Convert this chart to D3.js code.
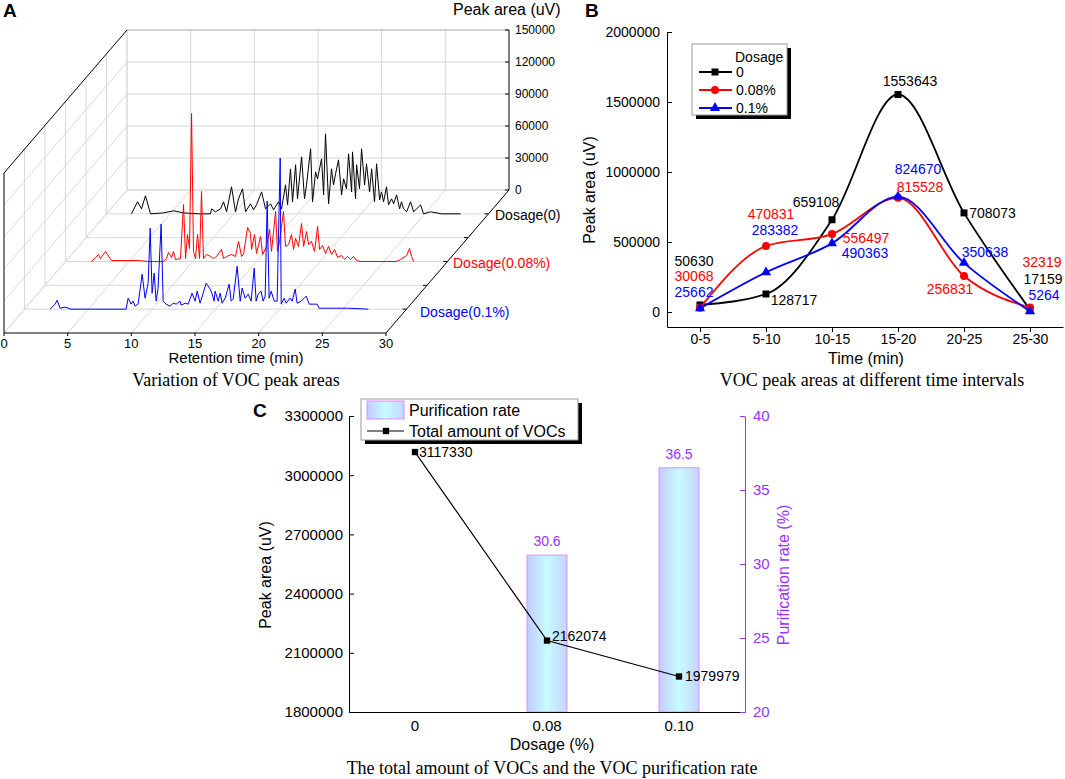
<!DOCTYPE html>
<html>
<head>
<meta charset="utf-8">
<script src="https://cdn.jsdelivr.net/npm/d3@7"></script>
<style>
  body { margin: 0; background: #fff; }
  svg { font-family: "Liberation Sans", Arial, sans-serif; }
  .cap { font-family: "Liberation Serif", "Times New Roman", serif; font-size: 18px; }
</style>
</head>
<body>
<svg width="1065" height="779"></svg>
<script>
// ---------- panel A data: [retention time (min), peak area (uV)] ----------
const traceDose0 = [[1.96,0],[2.44,11300],[2.75,4700],[3.06,16900],[3.46,0],[4.48,900],[5.26,2800],[6.05,900],[7.23,0],[8.17,0],[8.25,4700],[8.56,1900],[8.96,4700],[9.19,11300],[9.43,1900],[9.82,25300],[10.13,1900],[10.37,14100],[10.68,23400],[10.92,1900],[11.31,9400],[11.55,3800],[11.78,8400],[12.18,20600],[12.49,4700],[12.88,9400],[13.12,3800],[13.51,11300],[13.75,4700],[14.06,27200],[14.22,8400],[14.45,42200],[14.61,11300],[14.85,46000],[15.00,14100],[15.32,53400],[15.55,14100],[15.71,27200],[16.03,61000],[16.18,11300],[16.42,39400],[16.57,32800],[16.89,51600],[17.05,17800],[17.20,75000],[17.44,9400],[17.67,42200],[17.83,27200],[17.99,37500],[18.22,50600],[18.46,17800],[18.62,32800],[18.85,23400],[19.01,56300],[19.25,20600],[19.32,58100],[19.56,14100],[19.64,46000],[19.87,23400],[20.03,61000],[20.27,27200],[20.42,46900],[20.66,20600],[20.82,42200],[21.05,11300],[21.21,46900],[21.45,13100],[21.60,20600],[21.76,11300],[21.99,25300],[22.15,8400],[22.39,14100],[22.55,9400],[22.78,17800],[23.02,4700],[23.17,11300],[23.33,4700],[23.57,1900],[23.88,11300],[24.12,1900],[24.67,8400],[24.90,0],[25.45,1900],[26.32,0],[27.81,0]];
const traceDose008 = [[2.04,0],[2.36,3800],[2.59,6600],[2.75,2800],[3.14,9400],[3.61,900],[5.73,900],[6.52,0],[7.70,0],[7.93,2800],[8.09,8400],[8.33,3800],[8.48,9400],[8.64,1900],[9.03,2800],[9.27,53400],[9.43,2800],[9.58,25300],[9.74,12200],[9.90,138800],[10.05,9400],[10.21,2800],[10.37,25300],[10.53,2800],[10.68,65600],[10.84,2800],[11.08,6600],[11.39,4700],[11.63,2800],[11.86,4700],[12.25,11300],[12.41,2800],[12.65,4700],[13.04,6600],[13.35,4700],[13.59,18800],[13.83,4700],[13.98,6600],[14.30,31900],[14.53,26300],[14.61,11300],[14.85,25300],[15.00,7500],[15.32,23400],[15.48,6600],[15.79,14100],[16.03,30000],[16.18,9400],[16.50,46900],[16.65,9400],[16.81,18800],[17.12,46900],[17.28,14100],[17.52,15900],[17.75,25300],[17.91,11300],[18.07,21600],[18.30,14100],[18.54,35600],[18.70,14100],[18.93,28100],[19.09,15900],[19.32,18800],[19.56,9400],[19.80,32800],[19.95,11300],[20.19,15000],[20.42,7500],[20.66,14100],[20.90,6600],[21.13,11300],[21.37,3800],[21.68,5600],[21.92,1900],[22.15,4700],[22.39,1900],[22.62,4700],[22.86,900],[23.17,0],[24.19,0],[26.00,0],[26.32,1900],[26.79,5600],[27.02,12200],[27.18,4700],[27.34,0]];
const traceDose01 = [[2.01,0],[2.40,4700],[2.56,8400],[2.80,900],[3.19,1900],[3.66,0],[7.98,0],[8.14,10300],[8.37,4700],[8.53,7500],[8.69,2800],[8.92,4700],[9.24,32800],[9.47,10300],[9.71,24400],[9.87,75900],[10.02,15000],[10.18,33800],[10.34,7500],[10.49,19700],[10.73,79700],[10.89,7500],[11.12,4700],[11.44,2800],[11.67,5600],[11.91,4700],[12.22,7500],[12.30,3800],[12.62,5600],[12.85,4700],[13.16,15000],[13.40,7500],[13.56,16900],[13.79,5600],[14.27,24400],[14.58,18800],[14.74,14100],[14.89,7500],[14.97,16900],[15.21,7500],[15.37,15000],[15.52,5600],[15.76,10300],[16.07,23400],[16.23,7500],[16.39,9400],[16.70,40300],[16.94,7500],[17.09,19700],[17.33,10300],[17.56,14100],[17.80,7500],[18.04,38400],[18.19,7500],[18.35,14100],[18.58,16900],[18.74,7500],[18.90,12200],[19.06,101300],[19.21,10300],[19.37,16900],[19.61,7500],[19.84,7500],[20.08,141600],[20.16,4700],[20.39,10300],[20.55,5600],[20.86,10300],[21.02,7500],[21.26,18800],[21.41,5600],[21.73,7500],[22.12,12200],[22.36,4700],[22.67,4700],[22.98,4700],[23.14,900],[23.69,900],[25.42,900],[27.00,0]];
const traceNames = ["Dosage(0)", "Dosage(0.08%)", "Dosage(0.1%)"];
const traceSlots = [5, 3, 1];
const timeTicksA = [0, 5, 10, 15, 20, 25, 30];
const areaTicksA = [0, 30000, 60000, 90000, 120000, 150000];
const depthTicksA = [0, 1, 2, 3, 4, 5, 6];

// ---------- panel B data ----------
const intervals = ["0-5", "5-10", "10-15", "15-20", "20-25", "25-30"];
const dosageNames = ["0", "0.08%", "0.1%"];
const areaB0 = [50630, 128717, 659108, 1553643, 708073, 17159];
const areaB008 = [30068, 470831, 556497, 815528, 256831, 32319];
const areaB01 = [25662, 283382, 490363, 824670, 350638, 5264];
const ticksB = [0, 500000, 1000000, 1500000, 2000000];

// ---------- panel C data ----------
const dosageC = ["0", "0.08", "0.10"];
const totalVOC = [3117330, 2162074, 1979979];
const purification = [null, 30.6, 36.5];
const ticksCLeft = [1800000, 2100000, 2400000, 2700000, 3000000, 3300000];
const ticksCRight = [20, 25, 30, 35, 40];

const colors = ["#000000", "#ff0000", "#0000ff"];
const purple = "#9b30ff";

const svg = d3.select("svg");
svg.append("rect").attr("width", 1065).attr("height", 779).attr("fill", "#fff");

// =====================  A  =====================
const gA = svg.append("g");
const xA = d3.scaleLinear().domain([0, 30]).range([4, 386]);
const yA = d3.scaleLinear().domain([0, 150000]).range([333, 173]);
const zA = d3.scaleLinear().domain([0, 6]).range([0, 1]);
const depthX = 123, depthY = 143;
const proj = (t, v, z) => [xA(t) + zA(z) * depthX, yA(v) - zA(z) * depthY];

function seg(a, b, color) {
  gA.append("line")
    .attr("x1", a[0]).attr("y1", a[1])
    .attr("x2", b[0]).attr("y2", b[1])
    .attr("stroke", color)
    .attr("stroke-width", 1);
}

const grid = "#d8d8d8";
const tMax = timeTicksA[timeTicksA.length - 1];
const vMax = areaTicksA[areaTicksA.length - 1];
const zMax = depthTicksA[depthTicksA.length - 1];

// back wall
timeTicksA.slice(0, -1).forEach(t => seg(proj(t, 0, zMax), proj(t, vMax, zMax), grid));
areaTicksA.forEach(v => seg(proj(0, v, zMax), proj(tMax, v, zMax), v === vMax ? "#aaa" : grid));
// left wall
depthTicksA.slice(1).forEach(z => seg(proj(0, 0, z), proj(0, vMax, z), grid));
areaTicksA.slice(0, -1).forEach(v => seg(proj(0, v, 0), proj(0, v, zMax), grid));
// floor
timeTicksA.slice(0, -1).forEach(t => seg(proj(t, 0, 0), proj(t, 0, zMax), grid));
depthTicksA.slice(1).forEach(z => seg(proj(0, 0, z), proj(tMax, 0, z), grid));

// box edges
seg(proj(0, 0, 0), proj(0, vMax, 0), "#000");
seg(proj(0, vMax, 0), proj(0, vMax, zMax), "#000");
seg(proj(0, 0, 0), proj(tMax, 0, 0), "#000");
seg(proj(tMax, 0, 0), proj(tMax, 0, zMax), "#000");
seg(proj(tMax, 0, zMax), proj(tMax, vMax, zMax), "#000");

// time axis
timeTicksA.forEach(t => {
  const p = proj(t, 0, 0);
  seg(p, [p[0], p[1] + 3], "#000");
  gA.append("text").attr("x", p[0]).attr("y", p[1] + 15)
    .attr("text-anchor", "middle").attr("font-size", 13).text(t);
});
// value axis
areaTicksA.forEach(v => {
  const p = proj(tMax, v, zMax);
  seg([p[0] - 4, p[1]], p, "#000");
  gA.append("text").attr("x", p[0] + 6).attr("y", p[1] + 4)
    .attr("font-size", 12).text(v);
});
// depth ticks
depthTicksA.slice(1, -1).forEach(z => {
  const p = proj(tMax, 0, z);
  seg([p[0] - 4, p[1]], p, "#000");
});

const labelNudgeA = [[6.5, 6], [5.5, 6.5], [13.5, 8]];
[traceDose0, traceDose008, traceDose01].forEach((tr, i) => {
  const z = traceSlots[i];
  const line = d3.line()
    .x(d => proj(d[0], d[1], z)[0])
    .y(d => proj(d[0], d[1], z)[1]);
  gA.append("path").attr("d", line(tr))
    .attr("fill", "none").attr("stroke", colors[i]).attr("stroke-width", 1);
  const q = proj(tMax, 0, z);
  gA.append("text")
    .attr("x", q[0] + labelNudgeA[i][0]).attr("y", q[1] + labelNudgeA[i][1])
    .attr("font-size", 14).attr("fill", colors[i]).text(traceNames[i]);
});

gA.append("text").attr("x", 453).attr("y", 15).attr("font-size", 16).text("Peak area (uV)");
gA.append("text").attr("x", 236).attr("y", 363).attr("text-anchor", "middle")
  .attr("font-size", 15).text("Retention time (min)");
gA.append("text").attr("class", "cap").attr("x", 236).attr("y", 386)
  .attr("text-anchor", "middle").text("Variation of VOC peak areas");
svg.append("text").attr("x", 3).attr("y", 17).attr("font-size", 19)
  .attr("font-weight", "bold").text("A");

// =====================  B  =====================
const gB = svg.append("g");
const xB = d3.scalePoint().domain(intervals).range([667, 1063]).padding(0.5);
const yB = d3.scaleLinear().domain([-107000, 2000000]).range([327, 32]);

gB.append("g").attr("transform", "translate(0,327)")
  .call(d3.axisBottom(xB).tickSizeInner(5).tickSizeOuter(0).tickPadding(2))
  .attr("font-family", null).attr("font-size", 14);
gB.append("g").attr("transform", "translate(667,0)")
  .call(d3.axisLeft(yB).tickValues(ticksB).tickFormat(d3.format("d"))
    .tickSizeInner(-5).tickSizeOuter(0).tickPadding(7))
  .attr("font-family", null).attr("font-size", 14);

const seriesB = [areaB0, areaB008, areaB01];
const symbolsB = [d3.symbolSquare, d3.symbolCircle, d3.symbolTriangle];
const symbolSizeB = [49, 50, 45];
const lineB = d3.line()
  .x((d, i) => xB(intervals[i]))
  .y(d => yB(d))
  .curve(d3.curveMonotoneX);

const labelOffsetB = [
  [[-6, -44], [28, 6], [-16, -18], [12, -13.5], [28.5, 0], [13, -30.6]],
  [[-6, -31.5], [5, -32], [34, 4], [22, -11], [-14, 13], [12, -45.5]],
  [[-6, -16], [9, -42], [33, 10], [20, -27.5], [21, -11], [14, -16]]
];

seriesB.forEach((s, i) => {
  gB.append("path").attr("d", lineB(s))
    .attr("fill", "none").attr("stroke", colors[i]).attr("stroke-width", 1.8);
  gB.selectAll(null).data(s).join("path")
    .attr("transform", (d, j) => `translate(${xB(intervals[j])},${yB(d)})`)
    .attr("d", d3.symbol().type(symbolsB[i]).size(symbolSizeB[i]))
    .attr("fill", colors[i]);
});
seriesB.forEach((s, i) => {
  gB.selectAll(null).data(s).join("text")
    .attr("x", (d, j) => xB(intervals[j]) + labelOffsetB[i][j][0])
    .attr("y", (d, j) => yB(d) + labelOffsetB[i][j][1])
    .attr("dy", "0.35em")
    .attr("text-anchor", "middle")
    .attr("font-size", 14)
    .attr("fill", colors[i])
    .text(d => d);
});

// legend B
gB.append("rect").attr("x", 696).attr("y", 48).attr("width", 95).attr("height", 71).attr("fill", "#000");
gB.append("rect").attr("x", 692).attr("y", 44).attr("width", 95).attr("height", 71)
  .attr("fill", "#fff").attr("stroke", "#999");
gB.append("text").attr("x", 735).attr("y", 62).attr("font-size", 14).text("Dosage");
dosageNames.forEach((n, i) => {
  const y = 72 + i * 18;
  gB.append("line").attr("x1", 699).attr("x2", 732).attr("y1", y).attr("y2", y)
    .attr("stroke", colors[i]).attr("stroke-width", 1.8);
  gB.append("path").attr("transform", `translate(715,${y})`)
    .attr("d", d3.symbol().type(symbolsB[i]).size(symbolSizeB[i])).attr("fill", colors[i]);
  gB.append("text").attr("x", 736).attr("y", y + 5).attr("font-size", 14).text(n);
});

gB.append("text").attr("transform", "translate(589,190) rotate(-90)")
  .attr("text-anchor", "middle").attr("dy", "0.35em").attr("font-size", 16).text("Peak area (uV)");
gB.append("text").attr("x", 866).attr("y", 364).attr("text-anchor", "middle")
  .attr("font-size", 16).text("Time (min)");
gB.append("text").attr("class", "cap").attr("x", 872).attr("y", 386)
  .attr("text-anchor", "middle").text("VOC peak areas at different time intervals");
svg.append("text").attr("x", 585).attr("y", 17).attr("font-size", 19)
  .attr("font-weight", "bold").text("B");

// =====================  C  =====================
const gC = svg.append("g");
const defs = svg.append("defs");
const grad = defs.append("linearGradient").attr("id", "barGrad")
  .attr("x1", 0).attr("x2", 1).attr("y1", 0).attr("y2", 0);
grad.append("stop").attr("offset", 0).attr("stop-color", "#c4caff");
grad.append("stop").attr("offset", 0.5).attr("stop-color", "#c6fcff");
grad.append("stop").attr("offset", 1).attr("stop-color", "#c6d4ff");

const xC = d3.scaleBand().domain(dosageC).range([349, 745]);
const yC = d3.scaleLinear().domain([1800000, 3300000]).range([712, 416]);
const yR = d3.scaleLinear().domain([20, 40]).range([712, 416]);
const barW = 40;

const barData = purification.map((v, i) => ({ cat: dosageC[i], v })).filter(d => d.v !== null);
gC.selectAll("rect.bar").data(barData)
  .join("rect").classed("bar", true)
  .attr("x", d => xC(d.cat) + xC.bandwidth() / 2 - barW / 2)
  .attr("y", d => yR(d.v))
  .attr("width", barW)
  .attr("height", d => yR(20) - yR(d.v))
  .attr("fill", "url(#barGrad)")
  .attr("stroke", "#e08cff");

gC.selectAll("text.barlab").data(barData)
  .join("text").classed("barlab", true)
  .attr("x", d => xC(d.cat) + xC.bandwidth() / 2)
  .attr("y", d => yR(d.v) - 9)
  .attr("text-anchor", "middle").attr("font-size", 14).attr("fill", purple)
  .text(d => d.v);

gC.append("g").attr("transform", "translate(0,712)")
  .call(d3.axisBottom(xC).tickSize(0).tickPadding(8))
  .attr("font-family", null).attr("font-size", 15);
gC.append("g").attr("transform", "translate(349,0)")
  .call(d3.axisLeft(yC).tickValues(ticksCLeft).tickFormat(d3.format("d"))
    .tickSizeInner(-5).tickSizeOuter(0).tickPadding(6))
  .attr("font-family", null).attr("font-size", 15);
gC.append("g").attr("transform", "translate(745,0)")
  .call(d3.axisRight(yR).tickValues(ticksCRight)
    .tickSizeInner(-5).tickSizeOuter(0).tickPadding(8))
  .attr("font-family", null).attr("font-size", 15).attr("color", purple);

const cx = d => xC(d) + xC.bandwidth() / 2;
gC.append("path")
  .attr("d", d3.line().x((d, i) => cx(dosageC[i])).y(d => yC(d))(totalVOC))
  .attr("fill", "none").attr("stroke", "#000").attr("stroke-width", 1.2);
gC.selectAll("path.mk").data(totalVOC).join("path").classed("mk", true)
  .attr("transform", (d, i) => `translate(${cx(dosageC[i])},${yC(d)})`)
  .attr("d", d3.symbol().type(d3.symbolSquare).size(40));
const labelOffsetC = [[4, 0], [5, -4], [6, 0]];
gC.selectAll("text.val").data(totalVOC).join("text").classed("val", true)
  .attr("x", (d, i) => cx(dosageC[i]) + labelOffsetC[i][0])
  .attr("y", (d, i) => yC(d) + labelOffsetC[i][1])
  .attr("dy", "0.35em").attr("font-size", 14).text(d => d);

// legend C
gC.append("rect").attr("x", 365).attr("y", 403).attr("width", 217).attr("height", 41).attr("fill", "#000");
gC.append("rect").attr("x", 361).attr("y", 399).attr("width", 217).attr("height", 41)
  .attr("fill", "#fff").attr("stroke", "#999");
gC.append("rect").attr("x", 367).attr("y", 401).attr("width", 37).attr("height", 18)
  .attr("fill", "url(#barGrad)").attr("stroke", "#e08cff");
gC.append("text").attr("x", 409).attr("y", 416).attr("font-size", 16).text("Purification rate");
gC.append("line").attr("x1", 367).attr("x2", 404).attr("y1", 431).attr("y2", 431)
  .attr("stroke", "#000").attr("stroke-width", 1.2);
gC.append("path").attr("transform", "translate(386,431)")
  .attr("d", d3.symbol().type(d3.symbolSquare).size(40));
gC.append("text").attr("x", 409).attr("y", 437).attr("font-size", 16).text("Total amount of VOCs");

gC.append("text").attr("transform", "translate(265,575) rotate(-90)")
  .attr("text-anchor", "middle").attr("dy", "0.35em").attr("font-size", 16).text("Peak area (uV)");
gC.append("text").attr("transform", "translate(783,575) rotate(-90)")
  .attr("text-anchor", "middle").attr("dy", "0.35em").attr("font-size", 16)
  .attr("fill", purple).text("Purification rate (%)");
gC.append("text").attr("x", 552).attr("y", 750).attr("text-anchor", "middle")
  .attr("font-size", 16).text("Dosage (%)");
gC.append("text").attr("class", "cap").attr("x", 552).attr("y", 774)
  .attr("text-anchor", "middle").text("The total amount of VOCs and the VOC purification rate");
svg.append("text").attr("x", 253).attr("y", 417).attr("font-size", 19)
  .attr("font-weight", "bold").text("C");
</script>
</body>
</html>
